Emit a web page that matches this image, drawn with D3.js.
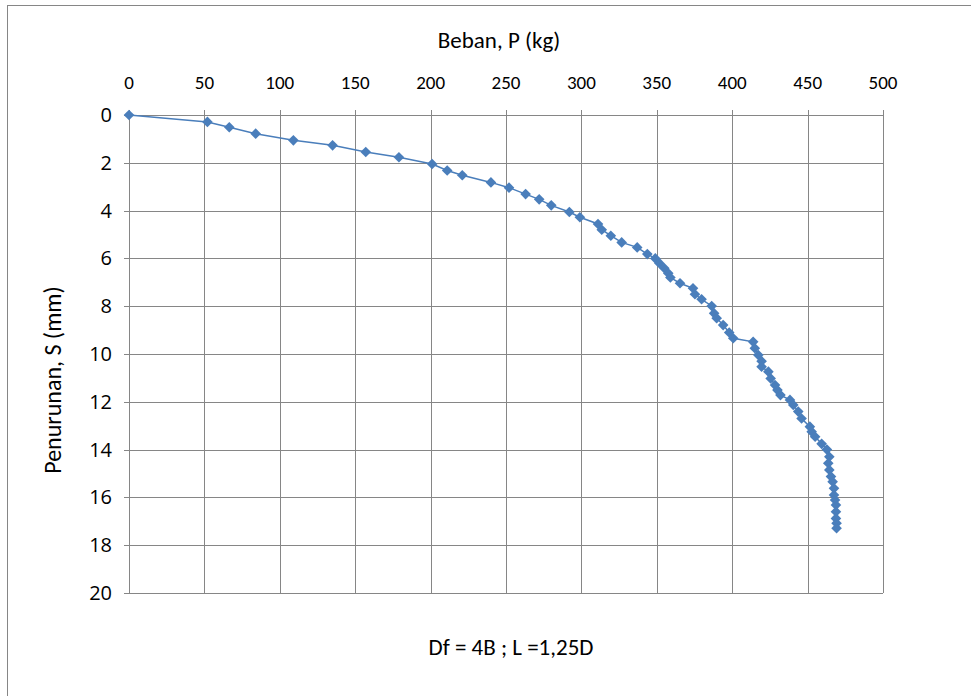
<!DOCTYPE html>
<html>
<head>
<meta charset="utf-8">
<script src="https://cdn.jsdelivr.net/npm/d3@7"></script>
<style>
  body { margin: 0; background: #fff; }
  text { font-family: Carlito, Calibri, Lato, sans-serif; fill: #000; }
</style>
</head>
<body>
<svg id="chart" width="971" height="696"></svg>
<script>
// load (kg) vs settlement (mm)
const beban = [0, 52, 66.5, 84, 109, 135, 157, 179, 201, 211, 221, 240, 252, 263, 272, 280, 292, 299,
  311, 313.5, 319.5, 326.7, 337, 343.7, 349, 351.7, 355, 357.6, 359, 365.4, 374, 375.3, 379.7, 386.4,
  388, 389.7, 394, 398, 400.7, 413.9, 415, 417.3, 419.5, 419.5, 424, 425.5, 428.4, 430, 432, 438.3,
  440.5, 443.8, 446, 451.5, 452.7, 455, 459.3, 462.8, 464.4, 463.7, 464.4, 465.5, 466.6, 467.5, 467.5,
  468.2, 468.8, 468.8, 468.8, 469.2, 469.2];
const penurunan = [0, 0.29, 0.51, 0.78, 1.06, 1.27, 1.55, 1.77, 2.05, 2.32, 2.52, 2.82, 3.04, 3.31, 3.53, 3.78, 4.06, 4.28,
  4.56, 4.8, 5.05, 5.33, 5.54, 5.82, 6.0, 6.2, 6.41, 6.62, 6.8, 7.04, 7.25, 7.5, 7.71, 7.99,
  8.3, 8.5, 8.79, 9.1, 9.34, 9.49, 9.76, 10.04, 10.3, 10.53, 10.74, 11.02, 11.3, 11.51, 11.72, 11.92,
  12.13, 12.41, 12.7, 13.04, 13.25, 13.46, 13.76, 14.0, 14.3, 14.57, 14.85, 15.13, 15.34, 15.62, 15.9,
  16.11, 16.32, 16.6, 16.88, 17.08, 17.29];
const xTicks = [0, 50, 100, 150, 200, 250, 300, 350, 400, 450, 500];
const yTicks = [0, 2, 4, 6, 8, 10, 12, 14, 16, 18, 20];

const svg = d3.select("#chart");
const plot = {left: 129, right: 883, top: 115, bottom: 593};
const grid = "#868686";
const blue = "#4A7EBB";

// chart frame
svg.append("rect")
  .attr("x", 7.5).attr("y", 5.5)
  .attr("width", 1000).attr("height", 1000)
  .attr("fill", "none").attr("stroke", grid);

const x = d3.scaleLinear([0, 500], [plot.left, plot.right]);
const y = d3.scaleLinear([0, 20], [plot.top, plot.bottom]);

// gridlines
svg.append("g").selectAll("line").data(xTicks).join("line")
  .attr("x1", d => Math.round(x(d)) + 0.5).attr("x2", d => Math.round(x(d)) + 0.5)
  .attr("y1", plot.top - 5).attr("y2", plot.bottom)
  .attr("stroke", grid);
svg.append("g").selectAll("line").data(yTicks).join("line")
  .attr("x1", plot.left - 5).attr("x2", plot.right)
  .attr("y1", d => Math.round(y(d)) + 0.5).attr("y2", d => Math.round(y(d)) + 0.5)
  .attr("stroke", grid);

// tick labels
svg.append("g").selectAll("text").data(xTicks).join("text")
  .attr("x", d => x(d)).attr("y", 89)
  .attr("text-anchor", "middle").attr("font-size", 19)
  .text(d => d);
svg.append("g").selectAll("text").data(yTicks).join("text")
  .attr("x", 112).attr("y", d => y(d) + 7)
  .attr("text-anchor", "end").attr("font-size", 20)
  .style("font-family", "'Open Sans', sans-serif")
  .text(d => d);

// axis titles
svg.append("text").attr("x", 499).attr("y", 48)
  .attr("text-anchor", "middle").attr("font-size", 23)
  .text("Beban, P (kg)");
svg.append("text")
  .attr("transform", "translate(61,380) rotate(-90)")
  .attr("text-anchor", "middle").attr("font-size", 24)
  .text("Penurunan, S (mm)");
svg.append("text").attr("x", 511).attr("y", 655)
  .attr("text-anchor", "middle").attr("font-size", 23)
  .text("Df = 4B ; L =1,25D");

// series
const pts = beban.map((b, i) => [b, penurunan[i]]);
svg.append("path")
  .attr("d", d3.line().x(d => x(d[0])).y(d => y(d[1]))(pts))
  .attr("fill", "none").attr("stroke", blue).attr("stroke-width", 1.5);
svg.append("g").selectAll("path").data(pts).join("path")
  .attr("d", d3.symbol(d3.symbolDiamond2, 72))
  .attr("transform", d => `translate(${x(d[0])},${y(d[1])})`)
  .attr("fill", blue);
</script>
</body>
</html>
